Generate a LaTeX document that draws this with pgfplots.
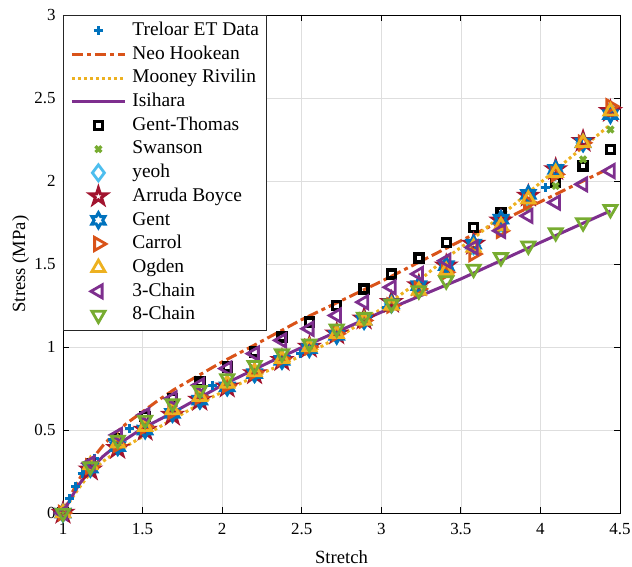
\documentclass[border=0pt]{standalone}
\usepackage{fontspec}
\setmainfont{Liberation Serif}
\usepackage{pgfplots}
\usepackage{pgfplotstable}
\pgfplotsset{compat=1.18}
\usetikzlibrary{plotmarks}

\definecolor{mBlue}{rgb}{0,0.447,0.741}
\definecolor{mOrange}{rgb}{0.850,0.325,0.098}
\definecolor{mYellow}{rgb}{0.929,0.694,0.125}
\definecolor{mPurple}{rgb}{0.494,0.184,0.556}
\definecolor{mGreen}{rgb}{0.466,0.674,0.188}
\definecolor{mCyan}{rgb}{0.301,0.745,0.933}
\definecolor{mRed}{rgb}{0.635,0.078,0.184}

\pgfdeclareplotmark{penta}{%
  \pgfpathmoveto{\pgfpointpolar{90}{\pgfplotmarksize}}%
  \pgfpathlineto{\pgfpointpolar{126}{0.382\pgfplotmarksize}}%
  \pgfpathlineto{\pgfpointpolar{162}{\pgfplotmarksize}}%
  \pgfpathlineto{\pgfpointpolar{198}{0.382\pgfplotmarksize}}%
  \pgfpathlineto{\pgfpointpolar{234}{\pgfplotmarksize}}%
  \pgfpathlineto{\pgfpointpolar{270}{0.382\pgfplotmarksize}}%
  \pgfpathlineto{\pgfpointpolar{306}{\pgfplotmarksize}}%
  \pgfpathlineto{\pgfpointpolar{342}{0.382\pgfplotmarksize}}%
  \pgfpathlineto{\pgfpointpolar{18}{\pgfplotmarksize}}%
  \pgfpathlineto{\pgfpointpolar{54}{0.382\pgfplotmarksize}}%
  \pgfpathclose\pgfusepathqstroke}
\pgfdeclareplotmark{hexa}{%
  \pgfpathmoveto{\pgfpointpolar{90}{\pgfplotmarksize}}%
  \pgfpathlineto{\pgfpointpolar{120}{0.577\pgfplotmarksize}}%
  \pgfpathlineto{\pgfpointpolar{150}{\pgfplotmarksize}}%
  \pgfpathlineto{\pgfpointpolar{180}{0.577\pgfplotmarksize}}%
  \pgfpathlineto{\pgfpointpolar{210}{\pgfplotmarksize}}%
  \pgfpathlineto{\pgfpointpolar{240}{0.577\pgfplotmarksize}}%
  \pgfpathlineto{\pgfpointpolar{270}{\pgfplotmarksize}}%
  \pgfpathlineto{\pgfpointpolar{300}{0.577\pgfplotmarksize}}%
  \pgfpathlineto{\pgfpointpolar{330}{\pgfplotmarksize}}%
  \pgfpathlineto{\pgfpointpolar{0}{0.577\pgfplotmarksize}}%
  \pgfpathlineto{\pgfpointpolar{30}{\pgfplotmarksize}}%
  \pgfpathlineto{\pgfpointpolar{60}{0.577\pgfplotmarksize}}%
  \pgfpathclose\pgfusepathqstroke}

\pgfplotstableread{
x      gt    sw    yeoh  ab    gent  carrol ogden c3    c8
1.000  0.00  0.00  0.00  0.00  0.00  0.00   0.00  0.00  0.00
1.172  0.30  0.27  0.27  0.26  0.27  0.28   0.29  0.30  0.28
1.344  0.45  0.40  0.40  0.39  0.40  0.41   0.42  0.47  0.44
1.516  0.58  0.50  0.51  0.50  0.50  0.52   0.52  0.59  0.56
1.688  0.69  0.60  0.60  0.59  0.60  0.61   0.62  0.69  0.66
1.860  0.79  0.68  0.68  0.68  0.68  0.70   0.70  0.77  0.74
2.032  0.88  0.76  0.76  0.76  0.76  0.77   0.78  0.87  0.81
2.204  0.97  0.84  0.84  0.84  0.84  0.85   0.85  0.96  0.89
2.376  1.06  0.92  0.92  0.92  0.92  0.93   0.93  1.04  0.96
2.548  1.15  0.99  1.00  1.00  0.99  1.00   1.00  1.11  1.02
2.720  1.25  1.07  1.08  1.08  1.07  1.08   1.08  1.19  1.11
2.892  1.35  1.16  1.16  1.17  1.16  1.16   1.16  1.27  1.18
3.064  1.44  1.25  1.26  1.27  1.26  1.25   1.25  1.36  1.26
3.236  1.535 1.35  1.36  1.37  1.37  1.35   1.34  1.44  1.34
3.408  1.63  1.46  1.48  1.49  1.49  1.45   1.46  1.52  1.40
3.580  1.72  1.58  1.61  1.62  1.62  1.56   1.60  1.60  1.47
3.752  1.81  1.71  1.75  1.76  1.77  1.70   1.73  1.70  1.54
3.924  1.90  1.84  1.90  1.91  1.92  1.87   1.89  1.79  1.61
4.096  1.99  1.97  2.06  2.07  2.07  2.04   2.05  1.87  1.69
4.268  2.09  2.13  2.23  2.24  2.23  2.23   2.23  1.98  1.75
4.440  2.19  2.31  2.42  2.42  2.40  2.45   2.42  2.06  1.83
}\models

\begin{document}
\begin{tikzpicture}
\useasboundingbox (-63bp,-54bp) rectangle (569bp,513bp);
\begin{axis}[
  at={(0,0)}, anchor=south west,
  width=557bp, height=498bp, scale only axis,
  xmin=1, xmax=4.5, ymin=0, ymax=3,
  xtick={1,1.5,2,2.5,3,3.5,4,4.5},
  ytick={0,0.5,1,1.5,2,2.5,3},
  grid=major,
  major grid style={draw=black!13, line width=0.6bp},
  tick align=inside,
  major tick length=6bp,
  axis line style={line width=0.8bp},
  every tick/.style={black, line width=0.8bp},
  /pgf/number format/assume math mode=true,
  ticklabel style={font=\fontsize{17}{20}\selectfont},
  xticklabel style={anchor=base, yshift=-21bp},
  yticklabel style={anchor=east, xshift=-4bp},
  xlabel={Stretch},
  xlabel style={font=\fontsize{18.7}{22}\selectfont, at={(axis description cs:0.5,0)}, anchor=base, yshift=-50bp},
  clip=false,
  legend cell align=left,
  legend image code/.code={\draw[mark repeat=2,mark phase=2,#1] plot coordinates {(0bp,0bp) (26.5bp,0bp) (53bp,0bp)};},
  legend style={at={(0,1)}, anchor=north west, draw=black!85, line width=0.8bp, fill=white,
    font=\fontsize{19.5}{22}\selectfont, inner xsep=7bp, inner ysep=6bp, row sep=5.2bp,
    nodes={inner sep=0pt, text height=14bp, text depth=4.5bp},
    /tikz/every odd column/.append style={column sep=6bp}},
]
% Treloar data
\addplot[only marks, mark=+, mark size=4.5bp, mark options={mBlue, line width=3bp}] coordinates {
(1.00,0) (1.04,0.09) (1.08,0.16) (1.12,0.24) (1.14,0.26) (1.20,0.33) (1.31,0.44) (1.42,0.51)
(1.69,0.65) (1.94,0.77) (2.49,0.96) (3.03,1.24) (3.43,1.45) (3.75,1.72) (4.03,1.96) (4.26,2.22) (4.44,2.43)};
\addlegendentry{Treloar ET Data}
% Neo Hookean
\addplot[mOrange, line width=3bp, dash pattern=on 11bp off 4bp on 4bp off 4bp] coordinates {
(1,0) (1.05,0.11) (1.1,0.20) (1.15,0.28) (1.2,0.345) (1.25,0.405) (1.3,0.455) (1.4,0.54) (1.5,0.61)
(1.6,0.68) (1.7,0.745) (1.8,0.80) (2.0,0.91) (2.2,1.01) (2.5,1.165) (3.0,1.395) (3.5,1.64) (4.0,1.875) (4.44,2.08)};
\addlegendentry{Neo Hookean}
% Mooney Rivlin
\addplot[mYellow, line width=3bp, dash pattern=on 3bp off 3bp] coordinates {
(1,0) (1.05,0.08) (1.1,0.15) (1.17,0.24) (1.25,0.31) (1.34,0.37) (1.5,0.46) (1.7,0.57) (1.94,0.70)
(2.2,0.82) (2.4,0.905) (2.6,0.99) (2.8,1.10) (3.0,1.23) (3.2,1.37) (3.4,1.53) (3.6,1.67) (3.8,1.83)
(4.0,1.99) (4.2,2.15) (4.44,2.34)};
\addlegendentry{Mooney Rivilin}
% Isihara
\addplot[mPurple, line width=3bp] coordinates {
(1,0) (1.05,0.09) (1.1,0.17) (1.17,0.26) (1.25,0.34) (1.34,0.41) (1.5,0.51) (1.7,0.61) (2.0,0.77)
(2.3,0.91) (2.6,1.04) (3.0,1.21) (3.5,1.41) (4.0,1.63) (4.44,1.82)};
\addlegendentry{Isihara}
\addplot[only marks, mark=square, mark size=4bp, mark options={black, line width=3.4bp}] table[x=x, y=gt] {\models};
\addlegendentry{Gent-Thomas}
\addplot[only marks, mark=x, mark size=4.2bp, mark options={mGreen, line width=3.2bp}] table[x=x, y=sw] {\models};
\addlegendentry{Swanson}
\addplot[only marks, mark=diamond, mark size=8bp, mark options={mCyan, line width=2.8bp}] table[x=x, y=yeoh] {\models};
\addlegendentry{yeoh}
\addplot[only marks, mark=penta, mark size=8.5bp, mark options={mRed, line width=3bp}] table[x=x, y=ab] {\models};
\addlegendentry{Arruda Boyce}
\addplot[only marks, mark=hexa, mark size=7.5bp, mark options={mBlue, line width=3bp}] table[x=x, y=gent] {\models};
\addlegendentry{Gent}
\addplot[only marks, mark=triangle, mark size=7.5bp, mark options={mOrange, line width=2.8bp, rotate=-90}] table[x=x, y=carrol] {\models};
\addlegendentry{Carrol}
\addplot[only marks, mark=triangle, mark size=7.5bp, mark options={mYellow, line width=2.8bp}] table[x=x, y=ogden] {\models};
\addlegendentry{Ogden}
\addplot[only marks, mark=triangle, mark size=7.5bp, mark options={mPurple, line width=2.8bp, rotate=90}] table[x=x, y=c3] {\models};
\addlegendentry{3-Chain}
\addplot[only marks, mark=triangle, mark size=7.5bp, mark options={mGreen, line width=2.8bp, rotate=180}] table[x=x, y=c8] {\models};
\addlegendentry{8-Chain}
\node[rotate=90, anchor=base, inner sep=0pt, font=\fontsize{18.7}{22}\selectfont] at (axis description cs:-0.0682,0.5) {Stress (MPa)};
\end{axis}
\end{tikzpicture}
\end{document}
